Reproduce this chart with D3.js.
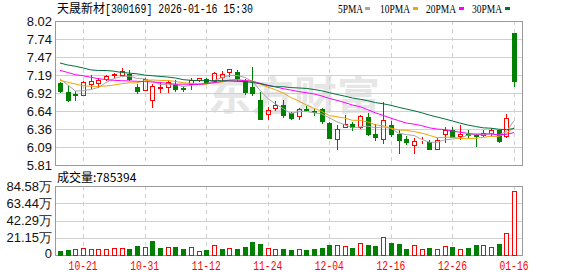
<!DOCTYPE html>
<html>
<head>
<meta charset="utf-8">
<script src="https://cdn.jsdelivr.net/npm/d3@7"></script>
<style>
  body { margin: 0; background: #fff; }
  svg { display: block; }
</style>
</head>
<body>
<div id="chart"></div>
<script>
const width = 578, height = 276;

// trading days shown (MM-DD)
const dates = [
  '10-16','10-17','10-20','10-21','10-22','10-23','10-24','10-27','10-28','10-29',
  '10-30','10-31','11-03','11-04','11-05','11-06','11-07','11-10','11-11','11-12',
  '11-13','11-14','11-17','11-18','11-19','11-20','11-21','11-24','11-25','11-26',
  '11-27','11-28','12-01','12-02','12-03','12-04','12-05','12-08','12-09','12-10',
  '12-11','12-12','12-15','12-16','12-17','12-18','12-19','12-22','12-23','12-24',
  '12-25','12-26','12-29','12-30','12-31','01-05','01-06','01-07','01-08','01-16'
];
const open = [
  7.07, 6.93, 6.90, 6.89, 7.05, 7.07, 7.13, 7.19, 7.19, 7.21,
  7.01, 6.96, 6.81, 6.99, 7.01, 7.05, 6.99, 7.06, 7.12, 7.13,
  7.10, 7.16, 7.24, 7.24, 7.10, 7.01, 6.80, 6.60, 6.69, 6.73,
  6.61, 6.56, 6.67, 6.64, 6.67, 6.46, 6.21, 6.40, 6.44, 6.39,
  6.55, 6.29, 6.21, 6.42, 6.29, 6.21, 6.12, 6.19, 6.16, 6.06,
  6.28, 6.34, 6.26, 6.28, 6.27, 6.27, 6.30, 6.34, 6.25, 7.84
];
const high = [
  7.08, 7.02, 6.94, 7.10, 7.19, 7.15, 7.19, 7.22, 7.30, 7.27,
  7.05, 7.14, 7.05, 7.08, 7.12, 7.11, 7.02, 7.14, 7.15, 7.14,
  7.24, 7.25, 7.28, 7.27, 7.13, 7.32, 6.93, 6.70, 6.79, 6.80,
  6.63, 6.69, 6.72, 6.69, 6.69, 6.47, 6.42, 6.57, 6.47, 6.57,
  6.61, 6.44, 6.78, 6.49, 6.34, 6.25, 6.22, 6.24, 6.20, 6.22,
  6.39, 6.39, 6.42, 6.35, 6.28, 6.35, 6.38, 6.35, 6.59, 7.84
];
const low = [
  6.93, 6.79, 6.80, 6.89, 6.99, 7.00, 7.12, 7.16, 7.18, 7.12,
  6.92, 6.96, 6.70, 6.93, 6.93, 6.95, 6.94, 6.97, 7.10, 7.08,
  7.09, 7.11, 7.18, 7.12, 6.90, 6.88, 6.52, 6.52, 6.66, 6.55,
  6.52, 6.52, 6.65, 6.58, 6.45, 6.22, 6.06, 6.39, 6.35, 6.38,
  6.27, 6.20, 6.15, 6.25, 6.00, 6.13, 6.00, 6.14, 6.05, 6.06,
  6.17, 6.24, 6.21, 6.24, 6.10, 6.25, 6.26, 6.17, 6.24, 7.02
];
const close = [
  6.95, 6.81, 6.89, 7.09, 7.10, 7.12, 7.17, 7.20, 7.25, 7.13,
  6.95, 7.13, 7.02, 7.01, 7.09, 6.98, 6.97, 7.11, 7.14, 7.08,
  7.22, 7.20, 7.28, 7.14, 6.93, 6.91, 6.52, 6.65, 6.73, 6.57,
  6.53, 6.67, 6.66, 6.63, 6.48, 6.23, 6.36, 6.44, 6.39, 6.56,
  6.28, 6.24, 6.50, 6.28, 6.20, 6.16, 6.18, 6.20, 6.06, 6.19,
  6.35, 6.24, 6.29, 6.27, 6.26, 6.30, 6.34, 6.18, 6.53, 7.10
];
const volume = [
  52400, 67100, 79300, 80200, 78600, 68800, 67500, 79800, 80900, 78100,
  104600, 92800, 166300, 91500, 100400, 92200, 67800, 99600, 52100, 59400,
  117200, 68300, 80400, 67700, 92600, 161800, 137900, 80700, 68900, 68100,
  67400, 68600, 67200, 68300, 80100, 117600, 116800, 104900, 80300, 141200,
  117300, 104400, 224600, 141800, 140700, 67900, 116900, 68200, 80400, 79600,
  116400, 92100, 68600, 80200, 116700, 117500, 100300, 140600, 273400, 785394
];

const ma5Head = [7.13, 7.04, 6.945, 6.95];
const ma10Head = [7.11, 7.08, 7.053, 7.027, 7.018, 7.018, 7.022, 7.038, 7.058];
const ma20Head = [7.263, 7.23, 7.196, 7.18, 7.156, 7.135, 7.12, 7.11, 7.104, 7.10,
  7.095, 7.09, 7.084, 7.075, 7.064, 7.05, 7.05, 7.05, 7.045];
const ma30Head = [7.375, 7.345, 7.325, 7.30, 7.27, 7.26, 7.26, 7.25, 7.23, 7.22,
  7.21, 7.19, 7.18, 7.17, 7.16, 7.145, 7.12, 7.11, 7.105, 7.105,
  7.105, 7.105, 7.10, 7.095, 7.09, 7.075, 7.06, 7.03, 7.01];

const priceTicks = ['5.81', '6.09', '6.36', '6.64', '6.92', '7.19', '7.47', '7.74', '8.02'];
const volTicks = ['0', '21.15万', '42.29万', '63.44万', '84.58万'];
const dateTicks = ['10-21', '10-31', '11-12', '11-24', '12-04', '12-16', '12-26', '01-16'];

const stockName = '天晟新材[300169]';
const stamp = '2026-01-16 15:30';
const legend = [
  { name: '5PMA', color: '#a5a5a5' },
  { name: '10PMA', color: '#f0a30a' },
  { name: '20PMA', color: '#ff00ff' },
  { name: '30PMA', color: '#00703c' }
];

const UP = '#ff0000', DOWN = '#008000';
const FRAME = '#9a9a9a', GRID = '#d0d0d0';
const numFont = 'Liberation Sans, Arial, sans-serif';
const cnFont = '"Noto Sans CJK SC", sans-serif';

const plotL = 55, plotR = 522;
const priceTop = 21, priceBot = 165;
const volTop = 186, volBot = 255;

const crisp = v => Math.round(v) + 0.5;

const svg = d3.select('#chart').append('svg')
  .attr('width', width)
  .attr('height', height);

svg.append('rect').attr('width', width).attr('height', height).attr('fill', '#fff');

// scales
const x = d3.scalePoint().domain(dates).range([60, 514]);
const priceMin = +priceTicks[0], priceMax = +priceTicks[priceTicks.length - 1];
const y = d3.scaleLinear().domain([priceMin, priceMax]).range([priceBot, priceTop]);
const volMax = 845800;
const yv = d3.scaleLinear().domain([0, volMax]).range([volBot, volTop]);

const priceVals = priceTicks.map((t, i) => priceMin + i * (priceMax - priceMin) / (priceTicks.length - 1));
const volVals = volTicks.map((t, i) => i * volMax / (volTicks.length - 1));

// watermark
svg.append('text')
  .attr('x', 208)
  .attr('y', 110)
  .attr('font-family', cnFont)
  .attr('font-size', 40)
  .attr('font-weight', 'bold')
  .attr('fill', '#e6e6e6')
  .attr('textLength', 172)
  .attr('lengthAdjust', 'spacingAndGlyphs')
  .text('东方财富');

// horizontal grid
svg.append('g').selectAll('line')
  .data(priceVals.slice(1, -1))
  .join('line')
  .attr('x1', plotL).attr('x2', plotR)
  .attr('y1', d => crisp(y(d))).attr('y2', d => crisp(y(d)))
  .attr('stroke', GRID);

svg.append('g').selectAll('line')
  .data(volVals.slice(1, -1))
  .join('line')
  .attr('x1', plotL).attr('x2', plotR)
  .attr('y1', d => crisp(yv(d))).attr('y2', d => crisp(yv(d)))
  .attr('stroke', GRID);

// vertical dashed grid at date ticks
[[priceTop, priceBot], [volTop, volBot]].forEach(([t, b]) => {
  svg.append('g').selectAll('line')
    .data(dateTicks)
    .join('line')
    .attr('x1', d => crisp(x(d))).attr('x2', d => crisp(x(d)))
    .attr('y1', t).attr('y2', b)
    .attr('stroke', GRID)
    .attr('stroke-dasharray', '4,4');
});

// frames
[[priceTop, priceBot], [volTop, volBot]].forEach(([t, b]) => {
  svg.append('rect')
    .attr('x', plotL + 0.5).attr('y', t + 0.5)
    .attr('width', plotR - plotL).attr('height', b - t)
    .attr('fill', 'none')
    .attr('stroke', FRAME);
});

// price labels
svg.append('g').selectAll('text')
  .data(priceTicks)
  .join('text')
  .attr('x', 52)
  .attr('y', (d, i) => y(priceVals[i]))
  .attr('dy', '0.35em')
  .attr('text-anchor', 'end')
  .attr('font-family', numFont)
  .attr('font-size', 13)
  .attr('fill', '#111')
  .text(d => d);

// volume labels
svg.append('g').selectAll('text')
  .data(volTicks)
  .join('text')
  .attr('x', 52)
  .attr('y', (d, i) => yv(volVals[i]) - (i === 0 ? 2 : 0))
  .attr('dy', '0.35em')
  .attr('text-anchor', 'end')
  .attr('font-family', numFont)
  .attr('font-size', 13)
  .attr('fill', '#111')
  .text(d => d);

// date labels
svg.append('g').selectAll('text')
  .data(dateTicks)
  .join('text')
  .attr('x', d => x(d))
  .attr('y', 270)
  .attr('text-anchor', 'middle')
  .attr('font-family', '"Liberation Mono", monospace')
  .attr('font-size', 12)
  .attr('textLength', 29)
  .attr('lengthAdjust', 'spacingAndGlyphs')
  .attr('fill', UP)
  .text(d => d);

// title
const title = svg.append('text')
  .attr('x', 57).attr('y', 12.5)
  .attr('font-size', 12)
  .attr('fill', '#000');
title.append('tspan').attr('font-family', cnFont).text(stockName.slice(0, 4));
title.append('tspan').attr('font-family', '"Liberation Mono", monospace')
  .attr('textLength', 148).attr('lengthAdjust', 'spacingAndGlyphs')
  .text(stockName.slice(4) + ' ' + stamp);

// legend
const lg = svg.append('g').selectAll('g')
  .data(legend)
  .join('g')
  .attr('transform', (d, i) => `translate(${[338, 380, 426, 472][i]},0)`);
lg.append('text')
  .attr('y', 12.5)
  .attr('font-family', '"Liberation Serif", serif')
  .attr('font-size', 12)
  .attr('textLength', d => d.name.length === 4 ? 25 : 30)
  .attr('lengthAdjust', 'spacingAndGlyphs')
  .attr('fill', '#000')
  .text(d => d.name);
lg.append('rect')
  .attr('x', d => d.name.length === 4 ? 27 : 33)
  .attr('y', 7)
  .attr('width', 5).attr('height', 3)
  .attr('fill', d => d.color);

// volume caption
svg.append('text')
  .attr('x', 57).attr('y', 181.5)
  .attr('font-family', cnFont)
  .attr('font-size', 12)
  .attr('fill', '#000')
  .text('成交量:' + volume[volume.length - 1]);

// candle direction: body colour by open/close, volume colour by previous close
const candleUp = i => close[i] > open[i] || (close[i] === open[i] && i > 0 && close[i] >= close[i - 1]);
const volUp = i => i === 0 ? close[i] >= open[i] : close[i] >= close[i - 1];

const idx = d3.range(dates.length);

// candles
const candles = svg.append('g').selectAll('g')
  .data(idx)
  .join('g');

candles.each(function (i) {
  const g = d3.select(this);
  const cx = Math.round(x(dates[i]));
  const up = candleUp(i);
  const col = up ? UP : DOWN;
  const top = Math.round(y(Math.max(open[i], close[i])));
  const bot = Math.round(y(Math.min(open[i], close[i])));
  const hi = Math.round(y(high[i])), lo = Math.round(y(low[i]));
  if (up) {
    if (hi < top) g.append('line').attr('x1', cx + 0.5).attr('x2', cx + 0.5).attr('y1', hi).attr('y2', top).attr('stroke', col);
    if (lo > bot) g.append('line').attr('x1', cx + 0.5).attr('x2', cx + 0.5).attr('y1', bot + 1).attr('y2', lo + 1).attr('stroke', col);
  } else {
    g.append('line').attr('x1', cx + 0.5).attr('x2', cx + 0.5).attr('y1', hi).attr('y2', lo + 1).attr('stroke', col);
  }
  g.append('rect')
    .attr('x', cx - 2 + 0.5)
    .attr('y', top + 0.5)
    .attr('width', 4)
    .attr('height', Math.max(bot - top, 0))
    .attr('fill', up ? 'none' : col)
    .attr('stroke', col);
});

// moving averages
function movingAvg(n, head) {
  return close.map((c, i) => i < head.length ? head[i] : d3.mean(close.slice(i - n + 1, i + 1)));
}
const maSeries = [movingAvg(5, ma5Head), movingAvg(10, ma10Head), movingAvg(20, ma20Head), movingAvg(30, ma30Head)];

const line = d3.line()
  .x((d, i) => x(dates[i]))
  .y(d => y(d));

svg.append('g').selectAll('path')
  .data(maSeries)
  .join('path')
  .attr('d', line)
  .attr('fill', 'none')
  .attr('stroke', (d, k) => legend[k].color)
  .attr('stroke-width', 1);

// volume bars
svg.append('g').selectAll('rect')
  .data(idx)
  .join('rect')
  .attr('x', i => Math.round(x(dates[i])) - 2 + 0.5)
  .attr('y', i => Math.round(yv(volume[i])) + 0.5)
  .attr('width', 4)
  .attr('height', i => volBot - Math.round(yv(volume[i])))
  .attr('fill', i => volUp(i) ? '#fff' : DOWN)
  .attr('stroke', i => volUp(i) ? UP : DOWN);
</script>
</body>
</html>
